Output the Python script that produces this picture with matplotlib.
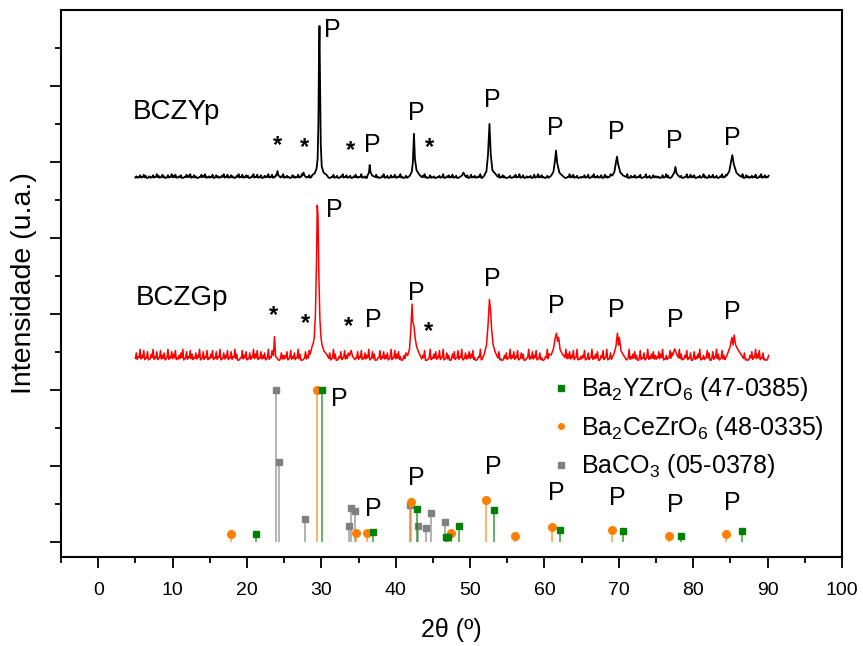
import numpy as np
import matplotlib
matplotlib.use('Agg')
import matplotlib.pyplot as plt
from matplotlib.lines import Line2D

plt.rcParams['font.family'] = ['Liberation Sans', 'DejaVu Sans']
plt.rcParams['mathtext.fontset'] = 'custom'
plt.rcParams['mathtext.rm'] = 'Liberation Sans'
plt.rcParams['mathtext.default'] = 'regular'

# baseline levels of the two measured patterns (offset stacking)
bczy_base = 4.79
bczg_base = 2.39

# baseline noise, one digit per 0.25 deg from 5 to 90
bczy_noise = ("3152640315274163052746135026471530264713"
              "2605314726153047261540372615043726150437"
              "1420531627042513602417350261403725140362"
              "2713042516203714052613720415362031472051"
              "3024170352614027315062413705216304271530"
              "1403627150324061735204162730415027361402"
              "2516037241506327140526317042513602714053"
              "3205174026315402716350241730526140372615"
              "043162705314260371524")
bczg_noise = ("6394827159372846193758246917385264917382"
              "5827391648273950284716395827461938275064"
              "4718362950174826391572846195037284619527"
              "3826491750283746192857304618295736480192"
              "5738291640572839164758203917465829371046"
              "2947381650293748162039574816203957482913"
              "4816293570482916357048261935740826193574"
              "3759142860739514826073591428607395184260"
              "473958261047395826104")

# traced peak outlines (2theta, height above baseline)
bczy_peaks = [
    [(23.95, 0.03), (24.1, 0.09), (24.25, 0.03)],
    [(27.45, 0.03), (27.6, 0.07), (27.75, 0.03)],
    [(28.8, 0.04), (29.1, 0.06), (29.35, 0.12), (29.5, 0.25), (29.6, 0.7), (29.68, 1.6),
     (29.75, 2.0), (29.82, 1.3), (29.92, 0.45), (30.05, 0.15), (30.3, 0.07), (30.7, 0.04)],
    [(36.2, 0.03), (36.4, 0.07), (36.5, 0.17), (36.62, 0.07), (36.85, 0.03)],
    [(41.9, 0.03), (42.15, 0.08), (42.3, 0.2), (42.45, 0.58), (42.58, 0.25), (42.8, 0.1), (43.2, 0.04)],
    [(48.9, 0.03), (49.1, 0.07), (49.3, 0.03)],
    [(51.9, 0.03), (52.2, 0.09), (52.4, 0.3), (52.6, 0.71), (52.78, 0.3), (53.0, 0.1), (53.5, 0.04)],
    [(60.9, 0.03), (61.2, 0.08), (61.4, 0.22), (61.55, 0.36), (61.7, 0.2), (62.0, 0.07), (62.4, 0.03)],
    [(69.1, 0.03), (69.4, 0.08), (69.6, 0.2), (69.75, 0.28), (69.9, 0.18), (70.2, 0.07), (70.6, 0.03)],
    [(77.2, 0.03), (77.45, 0.07), (77.6, 0.145), (77.75, 0.06), (78.0, 0.03)],
    [(84.5, 0.03), (84.85, 0.09), (85.05, 0.2), (85.25, 0.30), (85.45, 0.18), (85.8, 0.07), (86.2, 0.03)],
]
bczg_peaks = [
    [(23.55, 0.06), (23.7, 0.31), (23.85, 0.05)],
    [(28.5, 0.08), (28.75, 0.18), (28.9, 0.22), (29.05, 0.3), (29.2, 0.6), (29.35, 1.3), (29.45, 2.04),
     (29.55, 1.9), (29.65, 1.2), (29.8, 0.55), (29.95, 0.3), (30.1, 0.2), (30.35, 0.12), (30.7, 0.08)],
    [(33.8, 0.06), (34.0, 0.13), (34.2, 0.05)],
    [(41.6, 0.06), (41.85, 0.15), (42.0, 0.35), (42.1, 0.55), (42.2, 0.74), (42.3, 0.5), (42.45, 0.45),
     (42.6, 0.3), (42.8, 0.18), (43.1, 0.1)],
    [(51.9, 0.08), (52.2, 0.2), (52.4, 0.45), (52.6, 0.8), (52.75, 0.65), (52.9, 0.4), (53.1, 0.2), (53.4, 0.1)],
    [(60.9, 0.07), (61.2, 0.15), (61.45, 0.3), (61.6, 0.355), (61.75, 0.25), (61.9, 0.3), (62.1, 0.14), (62.4, 0.08)],
    [(69.3, 0.07), (69.6, 0.18), (69.8, 0.355), (69.95, 0.2), (70.05, 0.3), (70.3, 0.12), (70.6, 0.07)],
    [(77.2, 0.06), (77.5, 0.15), (77.8, 0.07)],
    [(84.6, 0.08), (84.95, 0.18), (85.2, 0.3), (85.35, 0.2), (85.5, 0.33), (85.7, 0.2), (86.0, 0.14), (86.4, 0.08)],
]

# reference cards (JCPDS), relative heights
byz_x = [21.18, 30.07, 37.0, 42.8, 46.8, 46.96, 48.5, 53.2, 62.1, 70.5, 78.4, 86.6]
byz_h = [0.105, 2.0, 0.13, 0.43, 0.06, 0.06, 0.21, 0.42, 0.16, 0.14, 0.07, 0.14]
bcz_x = [17.87, 29.36, 34.6, 36.2, 42.09, 47.4, 52.2, 56.1, 61.0, 69.1, 76.8, 84.45]
bcz_h = [0.105, 2.0, 0.12, 0.12, 0.53, 0.12, 0.55, 0.07, 0.19, 0.16, 0.07, 0.10]
baco3_x = [23.9, 24.3, 27.75, 33.7, 34.0, 34.5, 41.96, 42.94, 44.1, 44.7, 46.65]
baco3_h = [2.0, 1.05, 0.30, 0.21, 0.45, 0.41, 0.49, 0.21, 0.18, 0.38, 0.26]

# annotation positions
bczy_P = [(31.5, 6.74), (36.8, 5.22), (42.7, 5.64), (53.0, 5.82), (61.4, 5.45), (69.6, 5.39), (77.5, 5.27), (85.2, 5.32)]
bczy_star = [(24.1, 5.22), (27.7, 5.19), (33.9, 5.15), (44.6, 5.19)]
bczg_P = [(31.8, 4.37), (37.0, 2.92), (42.8, 3.27), (53.0, 3.46), (61.6, 3.10), (69.7, 3.05), (77.6, 2.92), (85.3, 3.02)]
bczg_star = [(23.6, 2.98), (27.9, 2.87), (33.6, 2.83), (44.4, 2.77)]
ref_P = [(32.35, 1.88), (37.0, 0.43), (42.8, 0.84), (53.1, 0.99), (61.6, 0.64), (69.75, 0.57), (77.6, 0.49), (85.3, 0.51)]


def build_trace(base, noise, peaks, scale):
    # each noise reading is drawn as a spike up from the baseline
    grid = np.arange(5, 90.001, 0.25)
    pts = []
    for x, d in zip(grid, noise):
        if any(p[0][0] - 0.15 <= x <= p[-1][0] + 0.15 for p in peaks):
            continue
        pts.append((x, base + 0.25 * int(d) * scale))
        pts.append((x + 0.125, base + int(d) * scale))
    for p in peaks:
        pts += [(x, base + h) for x, h in p]
    pts.sort()
    return np.array(pts)


fig = plt.figure(figsize=(8.63, 6.46), dpi=100)
ax = fig.add_axes([0.0707, 0.1378, 0.905, 0.8467])

black = build_trace(bczy_base, bczy_noise, bczy_peaks, 0.007)
red = build_trace(bczg_base, bczg_noise, bczg_peaks, 0.016)
ax.plot(black[:, 0], black[:, 1], color='black', lw=1.3)
ax.plot(red[:, 0], red[:, 1], color='red', lw=1.1)

# stick patterns
for xs, hs, col, mk, ms in [(baco3_x, baco3_h, '#808080', 's', 5),
                             (bcz_x, bcz_h, '#ff8000', 'o', 5.5),
                             (byz_x, byz_h, '#008000', 's', 5)]:
    ax.vlines(xs, 0, hs, colors=col, lw=1.3, alpha=0.65)
    ax.plot(xs, hs, ls='none', marker=mk, color=col, ms=ms)

for x, y in bczy_P + bczg_P + ref_P:
    ax.text(x, y, 'P', fontsize=18, ha='center', va='center')
for x, y in bczy_star + bczg_star:
    ax.text(x, y, '*', fontsize=17, fontweight='bold', ha='center', va='center')

ax.text(4.7, 5.66, 'BCZYp', fontsize=20, ha='left', va='center')
ax.text(5.0, 3.21, 'BCZGp', fontsize=20, ha='left', va='center')

handles = [Line2D([], [], ls='none', marker='s', color='#008000', ms=4),
           Line2D([], [], ls='none', marker='o', color='#ff8000', ms=4),
           Line2D([], [], ls='none', marker='s', color='#808080', ms=4)]
labels = ['Ba$_2$YZrO$_6$ (47-0385)', 'Ba$_2$CeZrO$_6$ (48-0335)', 'BaCO$_3$ (05-0378)']
ax.legend(handles, labels, loc='upper left', bbox_to_anchor=(0.615, 0.355), frameon=False,
          fontsize=18, handlelength=0.6, handletextpad=0.5, labelspacing=0.42, borderpad=0)

ax.set_xlim(-5, 100)
ax.set_ylim(-0.2, 7.0)
ax.set_xticks(np.arange(0, 101, 10))
ax.set_xticks(np.arange(-5, 101, 5), minor=True)
ax.set_yticks(np.arange(0, 7, 1))
ax.set_yticks(np.arange(0.5, 7, 1), minor=True)
ax.set_yticklabels([])
ax.tick_params(axis='both', which='major', direction='out', length=8, width=1.3, labelsize=14)
ax.tick_params(axis='both', which='minor', direction='out', length=4, width=1.3)
ax.tick_params(axis='x', pad=10)
for s in ax.spines.values():
    s.set_linewidth(1.5)

ax.set_xlabel('2θ (º)', fontsize=18, labelpad=14)
ax.set_ylabel('Intensidade (u.a.)', fontsize=20.5, labelpad=6)

fig.savefig('out.png', dpi=100)
